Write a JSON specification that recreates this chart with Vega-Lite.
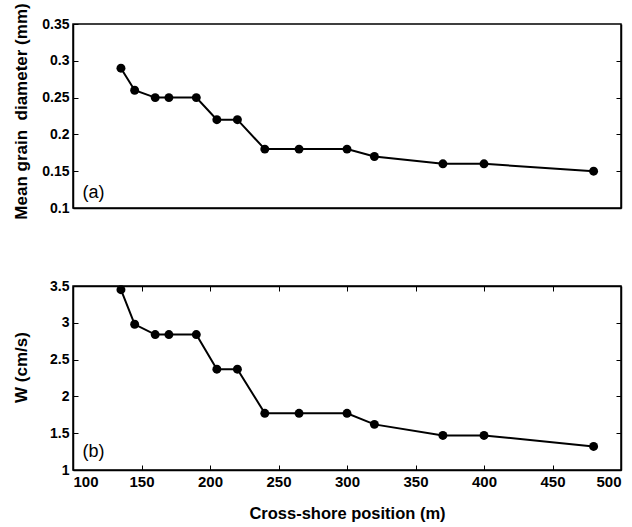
{
  "$schema": "https://vega.github.io/schema/vega-lite/v6.json",
  "padding": {"left": 11, "top": 2, "right": 5, "bottom": 5},
  "bounds": "flush",
  "spacing": 78,
  "background": "white",
  "config": {
    "font": "Liberation Sans",
    "view": {"stroke": "black", "strokeWidth": 1.5},
    "axis": {
      "domainColor": "black",
      "domainWidth": 1.5,
      "tickColor": "black",
      "tickSize": -5,
      "labelColor": "black",
      "titleColor": "black",
      "labelFont": "Liberation Sans",
      "titleFont": "Liberation Sans",
      "labelFontWeight": "bold",
      "labelFontSize": 14,
      "titleFontSize": 17,
      "titleFontWeight": "bold",
      "grid": false
    }
  },
  "datasets": {
    "d": [
      {"x": 135, "grain": 0.29, "w": 3.45},
      {"x": 145, "grain": 0.26, "w": 2.98},
      {"x": 160, "grain": 0.25, "w": 2.84},
      {"x": 170, "grain": 0.25, "w": 2.84},
      {"x": 190, "grain": 0.25, "w": 2.84},
      {"x": 205, "grain": 0.22, "w": 2.37},
      {"x": 220, "grain": 0.22, "w": 2.37},
      {"x": 240, "grain": 0.18, "w": 1.77},
      {"x": 265, "grain": 0.18, "w": 1.77},
      {"x": 300, "grain": 0.18, "w": 1.77},
      {"x": 320, "grain": 0.17, "w": 1.62},
      {"x": 370, "grain": 0.16, "w": 1.47},
      {"x": 400, "grain": 0.16, "w": 1.47},
      {"x": 480, "grain": 0.15, "w": 1.32}
    ]
  },
  "vconcat": [
    {
      "width": 548,
      "height": 184,
      "layer": [
        {
          "data": {"name": "d"},
          "mark": {"type": "line", "color": "black", "strokeWidth": 2},
          "encoding": {
            "x": {"field": "x", "type": "quantitative", "scale": {"domain": [100, 500], "nice": false},
                  "axis": {"labels": false, "ticks": false, "title": null}},
            "y": {"field": "grain", "type": "quantitative", "scale": {"domain": [0.1, 0.35], "nice": false, "zero": false},
                  "axis": {"values": [0.1, 0.15, 0.2, 0.25, 0.3, 0.35], "format": "~g", "labelPadding": 9,
                           "title": "Mean grain\u00a0\u00a0diameter (mm)", "titleX": -52, "titleY": 87, "titleAlign": "center", "titleBaseline": "middle", "titleAngle": -90}}
          }
        },
        {
          "data": {"name": "d"},
          "mark": {"type": "point", "filled": true, "color": "black", "size": 80, "opacity": 1},
          "encoding": {
            "x": {"field": "x", "type": "quantitative", "scale": {"domain": [100, 500], "nice": false}, "axis": null},
            "y": {"field": "grain", "type": "quantitative", "scale": {"domain": [0.1, 0.35], "nice": false, "zero": false},
                  "axis": {"orient": "right", "values": [0.15, 0.2, 0.25, 0.3], "labels": false, "title": null}}
          }
        },
        {
          "data": {"values": [{"x": 107, "y": 0.121, "t": "(a)"}]},
          "mark": {"type": "text", "align": "left", "baseline": "middle", "fontSize": 18, "color": "black", "font": "Liberation Sans"},
          "encoding": {
            "x": {"field": "x", "type": "quantitative", "scale": {"domain": [100, 500], "nice": false}, "axis": null},
            "y": {"field": "y", "type": "quantitative", "scale": {"domain": [0.1, 0.35], "nice": false, "zero": false}, "axis": null},
            "text": {"field": "t"}
          }
        }
      ],
      "resolve": {"axis": {"x": "independent", "y": "independent"}}
    },
    {
      "width": 548,
      "height": 184,
      "layer": [
        {
          "data": {"name": "d"},
          "mark": {"type": "line", "color": "black", "strokeWidth": 2},
          "encoding": {
            "x": {"field": "x", "type": "quantitative", "scale": {"domain": [100, 500], "nice": false},
                  "axis": {"values": [100, 150, 200, 250, 300, 350, 400, 450, 500], "labelPadding": 9, "labelFontSize": 15,
                           "title": "Cross-shore position (m)", "titleFontSize": 16.5, "titleX": 274, "titleY": 43, "titleAlign": "center", "titleBaseline": "middle"}},
            "y": {"field": "w", "type": "quantitative", "scale": {"domain": [1, 3.5], "nice": false, "zero": false},
                  "axis": {"values": [1, 1.5, 2, 2.5, 3, 3.5], "format": "~g", "labelPadding": 9,
                           "title": "W (cm/s)", "titleX": -52, "titleY": 81, "titleAlign": "center", "titleBaseline": "middle", "titleAngle": -90}}
          }
        },
        {
          "data": {"name": "d"},
          "mark": {"type": "point", "filled": true, "color": "black", "size": 80, "opacity": 1},
          "encoding": {
            "x": {"field": "x", "type": "quantitative", "scale": {"domain": [100, 500], "nice": false},
                  "axis": {"orient": "top", "values": [150, 200, 250, 300, 350, 400, 450], "labels": false, "title": null}},
            "y": {"field": "w", "type": "quantitative", "scale": {"domain": [1, 3.5], "nice": false, "zero": false},
                  "axis": {"orient": "right", "values": [1.5, 2, 2.5, 3], "labels": false, "title": null}}
          }
        },
        {
          "data": {"values": [{"x": 107, "y": 1.25, "t": "(b)"}]},
          "mark": {"type": "text", "align": "left", "baseline": "middle", "fontSize": 18, "color": "black", "font": "Liberation Sans"},
          "encoding": {
            "x": {"field": "x", "type": "quantitative", "scale": {"domain": [100, 500], "nice": false}, "axis": null},
            "y": {"field": "y", "type": "quantitative", "scale": {"domain": [1, 3.5], "nice": false, "zero": false}, "axis": null},
            "text": {"field": "t"}
          }
        }
      ],
      "resolve": {"axis": {"x": "independent", "y": "independent"}}
    }
  ]
}
